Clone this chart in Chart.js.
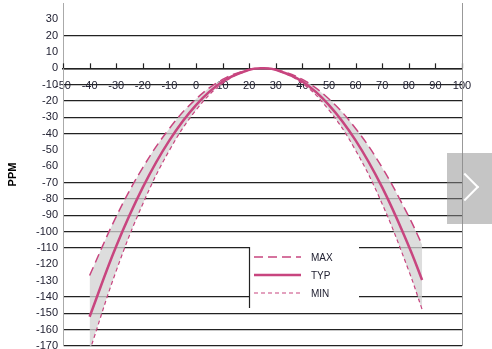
<!DOCTYPE html>
<html><head><meta charset="utf-8">
<script src="https://cdn.jsdelivr.net/npm/chart.js@4/dist/chart.umd.min.js"></script>
<style>
html,body{margin:0;padding:0;background:#fff;}
#wrap{position:relative;width:492px;height:349px;}
#ov{position:absolute;left:447px;top:153px;width:45px;height:71px;background:rgba(140,140,140,0.5);}
#ov:after{content:"";position:absolute;left:8px;top:24px;width:18px;height:18px;border-right:2px solid #fff;border-top:2px solid #fff;transform:rotate(45deg);}
</style></head>
<body><div id="wrap"><canvas id="c" width="492" height="349"></canvas><div id="ov"></div></div>
<script>
const temps = [-40,-30,-20,-10,0,10,20,25,30,40,50,60,70,80,85];
const maxPPM = [-126.8,-90.8,-60.8,-36.8,-18.8,-6.8,-0.8,0,-0.8,-6.8,-18.8,-36.8,-60.8,-90.8,-108];
const typPPM = [-152.1,-108.9,-72.9,-44.1,-22.5,-8.1,-0.9,0,-0.9,-8.1,-22.5,-44.1,-72.9,-108.9,-129.6];
const minPPM = [-173.2,-124,-83,-50.2,-25.6,-9.2,-1,0,-1,-9.2,-25.6,-50.2,-83,-124,-147.6];
const seriesNames = ['MAX','TYP','MIN'];
const hiddenGrid = [40,30,10,-50,-60,-120,-130];
const pink = '#c8457f';

const pts = arr => temps.map((t,i)=>({x:t,y:arr[i]}));

const legendPlugin = {
  id:'boxLegend',
  afterDraw(chart){
    const ctx = chart.ctx, y = chart.scales.y, x = chart.scales.x;
    const left = 249, right = 358;
    const top = y.getPixelForValue(-110), bot = y.getPixelForValue(-140);
    ctx.save();
    ctx.fillStyle='#fff';
    ctx.fillRect(left+1, top-1, right-left, bot-top+2);
    ctx.strokeStyle='#222'; ctx.lineWidth=1.2;
    ctx.beginPath(); ctx.moveTo(left+0.5, top-1); ctx.lineTo(left+0.5, bot+11); ctx.stroke();
    const ds = chart.data.datasets;
    const rows = [top+9, top+27, top+45];
    ds.forEach((d,i)=>{
      ctx.strokeStyle = d.borderColor; ctx.lineWidth = d.borderWidth;
      ctx.setLineDash(d.borderDash||[]);
      ctx.beginPath(); ctx.moveTo(254, rows[i]); ctx.lineTo(301, rows[i]); ctx.stroke();
      ctx.setLineDash([]);
      ctx.fillStyle='#223'; ctx.font='10px "Liberation Sans", Arial, sans-serif';
      ctx.textBaseline='middle';
      ctx.fillText(d.label, 311, rows[i]+1);
    });
    const y0 = y.getPixelForValue(0);
    ctx.strokeStyle='#222'; ctx.lineWidth=1.2;
    x.ticks.forEach(t=>{
      const px = Math.round(x.getPixelForValue(t.value))+0.5;
      ctx.beginPath(); ctx.moveTo(px, y0); ctx.lineTo(px, y0-5); ctx.stroke();
    });
    ctx.restore();
  }
};

new Chart(document.getElementById('c'), {
  type:'line',
  data:{datasets:[
    {label:seriesNames[0], data:pts(maxPPM), borderColor:pink, borderWidth:1.5, borderDash:[9,5], pointRadius:0, tension:0.4, fill:2, backgroundColor:'rgba(210,210,210,0.75)'},
    {label:seriesNames[1], data:pts(typPPM), borderColor:pink, borderWidth:2.5, pointRadius:0, tension:0.4, fill:false},
    {label:seriesNames[2], data:pts(minPPM), borderColor:pink, borderWidth:1.2, borderDash:[4,3], pointRadius:0, tension:0.4, fill:false}
  ]},
  options:{
    responsive:false, animation:false,
    layout:{padding:{left:0,right:30,top:3,bottom:3}},
    plugins:{legend:{display:false}, tooltip:{enabled:false}, filler:{drawTime:'beforeDatasetsDraw'}},
    scales:{
      x:{type:'linear', min:-50, max:100, position:{y:0},
         afterFit(s){ s.paddingLeft=0; s.paddingRight=0; },
         ticks:{stepSize:10, autoSkip:false, maxRotation:0, color:'#223', font:{size:11, family:'"Liberation Sans", Arial'}, padding:3},
         grid:{display:false}, border:{display:true, color:'#222', width:1.5}},
      y:{type:'linear', min:-170, max:40,
         afterFit(s){ s.width = 63; s.paddingTop=0; s.paddingBottom=0; },
         ticks:{stepSize:10, autoSkip:false, color:'#223', font:{size:11, family:'"Liberation Sans", Arial'}, padding:5,
           callback:v => v===40 ? '' : v},
         grid:{color:ctx => hiddenGrid.includes(ctx.tick.value) ? 'rgba(0,0,0,0)' : '#222', lineWidth:1.3, drawTicks:false},
         border:{color:'#aaa', width:1},
         title:{display:true, text:'PPM', color:'#000', font:{size:11, weight:'bold', family:'"Liberation Sans", Arial'}, padding:{top:6,bottom:0}}}
    }
  },
  plugins:[legendPlugin, {id:'rightBorder', afterDraw(chart){const a=chart.chartArea,c=chart.ctx;c.save();c.strokeStyle='#999';c.lineWidth=1;c.beginPath();c.moveTo(a.right+0.5,a.top);c.lineTo(a.right+0.5,a.bottom);c.stroke();c.restore();}}]
});
</script></body></html>
